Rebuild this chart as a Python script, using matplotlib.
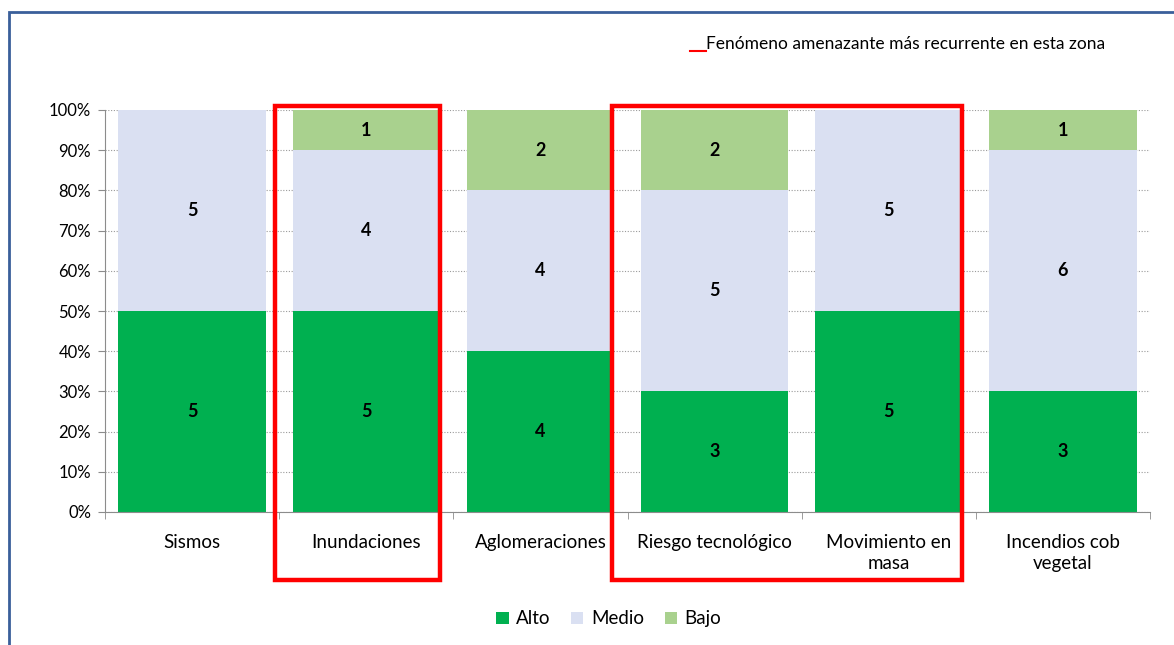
import matplotlib
matplotlib.use("Agg")
import matplotlib.pyplot as plt
from matplotlib.patches import Rectangle
from matplotlib.lines import Line2D
import numpy as np

plt.rcParams['font.family'] = ['Lato', 'DejaVu Sans']

categories = ["Sismos", "Inundaciones", "Aglomeraciones", "Riesgo tecnológico",
              "Movimiento en\nmasa", "Incendios cob\nvegetal"]
alto = [5, 5, 4, 3, 5, 3]
medio = [5, 4, 4, 5, 5, 6]
bajo = [0, 1, 2, 2, 0, 1]

series = [("Alto", alto, "#00B050"), ("Medio", medio, "#DAE0F2"), ("Bajo", bajo, "#A9D18E")]

W, H = 1174, 645
fig = plt.figure(figsize=(W / 100, H / 100), dpi=100)
ax = fig.add_axes([105 / W, 1 - 512 / H, (1150 - 105) / W, (512 - 110) / H])

x = np.arange(len(categories))
totals = np.array(alto) + np.array(medio) + np.array(bajo)
bottom = np.zeros(len(categories))
for name, vals, col in series:
    pct = np.array(vals) / totals * 100
    ax.bar(x, pct, bottom=bottom, width=0.845, color=col, label=name, zorder=2)
    for xi, v, p, b in zip(x, vals, pct, bottom):
        if v > 0:
            ax.text(xi, b + p / 2, str(v), ha="center", va="center",
                    fontsize=13, fontweight="bold", color="black", zorder=3)
    bottom += pct

ax.set_xlim(-0.5, len(categories) - 0.5)
ax.set_ylim(0, 100)
ax.set_yticks(np.arange(0, 101, 10))
ax.set_yticklabels([f"{v}%" for v in range(0, 101, 10)], fontsize=12)
ax.yaxis.grid(True, linestyle=(0, (1, 1.5)), color="#9a9a9a", linewidth=0.8, zorder=1)
ax.set_axisbelow(True)

ax.set_xticks(x)
ax.set_xticklabels(categories, fontsize=13.5, linespacing=1.3)
ax.tick_params(axis="x", length=0, pad=16)
ax.set_xticks(np.arange(-0.5, len(categories), 1), minor=True)
ax.tick_params(axis="x", which="minor", length=5, color="#8c8c8c", direction="out")
ax.tick_params(axis="y", length=5, color="#8c8c8c", direction="out", pad=5)

for s in ["top", "right"]:
    ax.spines[s].set_visible(False)
for s in ["left", "bottom"]:
    ax.spines[s].set_color("#8c8c8c")

# legend
leg = ax.legend(loc="upper center", bbox_to_anchor=(0.482, -0.203), ncol=3, frameon=False,
                fontsize=13.5, handlelength=0.65, handleheight=0.65, handletextpad=0.4,
                columnspacing=1.1)

# outer frame
fig.add_artist(Rectangle((9 / W, -0.1), 1.2, 1 - 12 / H + 0.1, transform=fig.transFigure,
                         fill=False, edgecolor="#3A5F9A", linewidth=2))

# red boxes marking the most recurrent phenomena
for x0, x1 in [(275, 440), (612, 962)]:
    fig.add_artist(Rectangle((x0 / W, 1 - 580 / H), (x1 - x0) / W, (580 - 106) / H,
                             transform=fig.transFigure, fill=False, edgecolor="#FF0000",
                             linewidth=3.2, zorder=5))

# top note
fig.add_artist(Line2D([690 / W, 706 / W], [1 - 51 / H, 1 - 51 / H], transform=fig.transFigure,
                      color="#FF0000", linewidth=1.5))
fig.text(706 / W, 1 - 44 / H, "Fenómeno amenazante más recurrente en esta zona",
         fontsize=12.5, va="center", ha="left")

fig.savefig("out.png", dpi=100)
